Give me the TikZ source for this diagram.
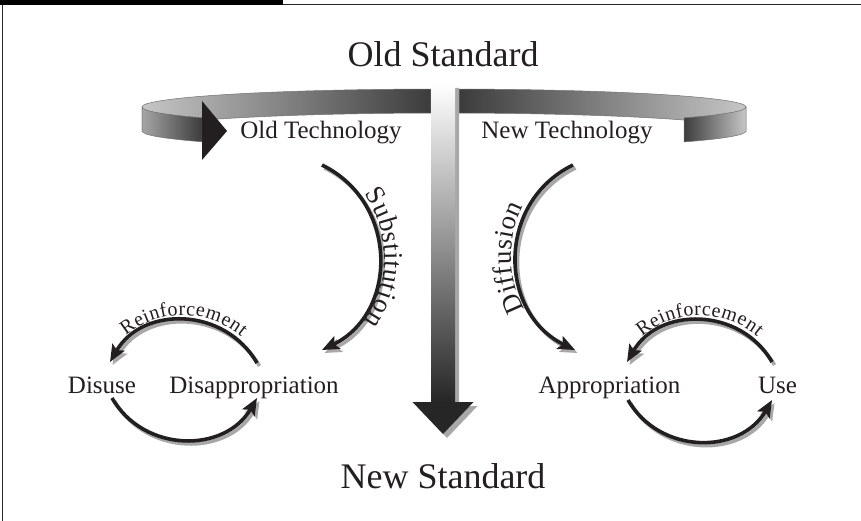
\documentclass[tikz,border=0pt]{standalone}
\usepackage{fontspec}
\setmainfont{Liberation Serif}
\usepackage{tikz}
\usetikzlibrary{positioning}
\usetikzlibrary{arrows.meta}
\usetikzlibrary{decorations.text}
\usepackage{xcolor}

\definecolor{inkblack}{HTML}{231F20}
\definecolor{shadowgray}{HTML}{A8A8A8}
\definecolor{bandlight}{HTML}{C6C6C6}
\definecolor{banddark}{HTML}{3C3C3C}
\definecolor{bandline}{HTML}{707070}

\newcommand{\termfont}{\fontsize{25}{30}\selectfont}
\newcommand{\stdfont}{\fontsize{36}{43}\selectfont}
\newcommand{\bendfont}{\fontsize{27}{32}\selectfont}
\newcommand{\loopfont}{\fontsize{20}{24}\selectfont}

\tikzset{
    term/.style={anchor=base, inner sep=0pt, text=inkblack, font=\termfont},
    standard/.style={anchor=base, inner sep=0pt, text=inkblack, font=\stdfont},
    flowarrow/.style={line width=3.6pt, draw=inkblack,
        -{Stealth[length=17pt,width=14pt,inset=3.5pt]},
        preaction={draw=shadowgray, line width=3.6pt,
            -{Stealth[length=17pt,width=14pt,inset=3.5pt]},
            transform canvas={shift={(2.5pt,-3pt)}}}},
    band/.style={draw=bandline, line width=0.5pt}
}

\begin{document}
\begin{tikzpicture}[x=1pt, y=1pt]
    \useasboundingbox (0,0) rectangle (861,-521);

    % Frame
    \fill[black] (0,0) rectangle (283,-5.5);
    \draw[line width=1.2pt, black!85] (283,-4.6) -- (861,-4.6);
    \draw[line width=1.2pt, black!85] (2.6,-5) -- (2.6,-521);

    % Ribbon: back part
    \shade[band, left color=bandlight, right color=banddark]
        (142,-107) arc[start angle=180, end angle=92.47, x radius=302, y radius=18]
        -- ++(0,-24) arc[start angle=92.47, end angle=180, x radius=302, y radius=18] -- cycle;
    \shade[band, left color=banddark, middle color=bandlight!80!banddark, right color=bandlight]
        (459,-89.02) arc[start angle=87.15, end angle=0, x radius=302, y radius=18]
        -- ++(0,-24) arc[start angle=0, end angle=87.15, x radius=302, y radius=18] -- cycle;

    % Ribbon: front part
    \shade[band, left color=black!35, middle color=black!17, right color=banddark]
        (142,-107) arc[start angle=180, end angle=216.74, x radius=302, y radius=18]
        -- ++(0,-24) arc[start angle=216.74, end angle=180, x radius=302, y radius=18] -- cycle;
    \shade[band, left color=banddark, middle color=black!30, right color=bandlight]
        (684,-117.93) arc[start angle=-37.38, end angle=0, x radius=302, y radius=18]
        -- ++(0,-24) arc[start angle=0, end angle=-37.38, x radius=302, y radius=18] -- cycle;
    \fill[inkblack] (202,-101) -- (227,-131) -- (202,-160) -- cycle;

    % Big arrow between the standards
    \fill[shadowgray] (435,-88) -- (459,-88) -- (459,-406) -- (477.5,-406)
        -- (447,-438) -- (416.5,-406) -- (435,-406) -- cycle;
    \shade[top color=white, bottom color=black!85] (431,-84) rectangle (455,-402);
    \fill[black!85] (412.5,-402) -- (473.5,-402) -- (443,-434) -- cycle;

    % Nodes
    \node (oldstd) [standard] at (443,-67) {Old Standard};
    \node (newstd) [standard] at (443,-488) {New Standard};
    \node (oldtech) [term] at (321,-139) {Old Technology};
    \node (newtech) [term] at (567,-139) {New Technology};
    \node (disuse) [term] at (102,-393) {Disuse};
    \node (disapp) [term] at (254,-393) {Disappropriation};
    \node (approp) [term] at (609.5,-393) {Appropriation};
    \node (use) [term] at (777.5,-393) {Use};

    % Arrows from the technologies
    \draw[flowarrow, postaction={decorate, decoration={text along path, text align=center,
        raise=5pt, text color=inkblack, text={|\bendfont|Substitution}}}]
        ([shift={(1,-26)}]oldtech.base) to[out=-26, in=26, looseness=1.18]
        ([shift={(68,43)}]disapp.base);
    \draw[flowarrow, postaction={decorate, decoration={text along path, text align=center,
        raise=5pt, reverse path, text color=inkblack, text={|\bendfont|Diffusion}}}]
        ([shift={(6,-26)}]newtech.base) to[out=-154, in=154, looseness=1.18]
        ([shift={(-34.5,43)}]approp.base);

    % Reinforcement loops
    \draw[flowarrow, postaction={decorate, decoration={text along path, text align=center,
        raise=5pt, reverse path, text color=inkblack, text={|\loopfont|Reinforcement}}}]
        ([shift={(3,30)}]disapp.base) to[out=120, in=60, looseness=1.13]
        ([shift={(8,31)}]disuse.base);
    \draw[flowarrow] ([shift={(10,-5)}]disuse.base) to[out=-60, in=-120, looseness=1.13]
        ([shift={(3,-5)}]disapp.base);
    \draw[flowarrow, postaction={decorate, decoration={text along path, text align=center,
        raise=5pt, reverse path, text color=inkblack, text={|\loopfont|Reinforcement}}}]
        ([shift={(-5.5,31)}]use.base) to[out=120, in=60, looseness=1.13]
        ([shift={(17.5,31)}]approp.base);
    \draw[flowarrow] ([shift={(18.5,-7)}]approp.base) to[out=-60, in=-120, looseness=1.13]
        ([shift={(-5.5,-7)}]use.base);
\end{tikzpicture}
\end{document}
